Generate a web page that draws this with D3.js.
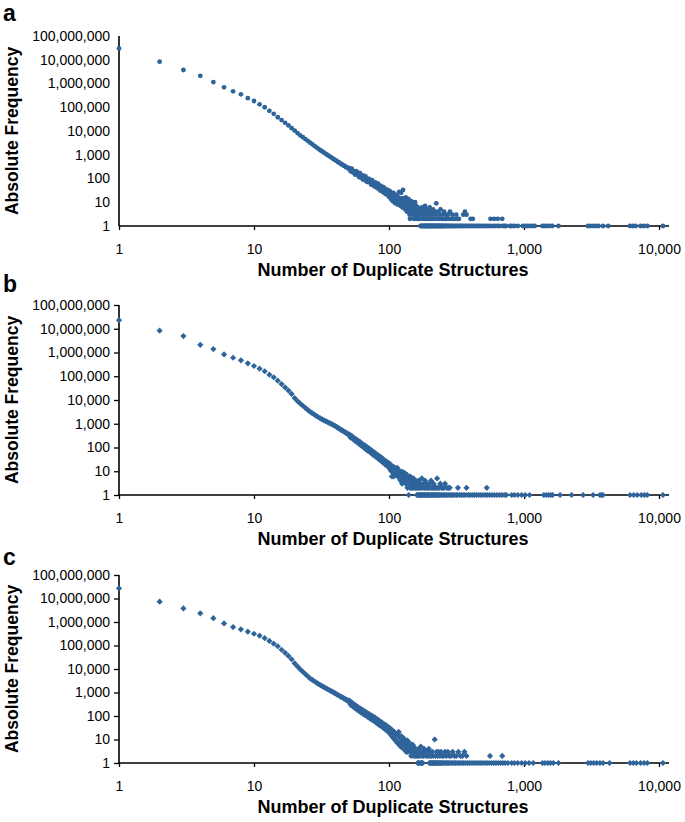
<!DOCTYPE html>
<html lang="en">
<head>
<meta charset="utf-8">
<title>Duplicate structures</title>
<script src="https://d3js.org/d3.v7.min.js"></script>
<style>
body { margin: 0; background: #fff; }
text { font-family: Arial, "Liberation Sans", sans-serif; fill: #000; }
</style>
</head>
<body>
<div id="chart"></div>
<script>

// ---- data ----
// curve arrays: frequency for n = 1, 2, 3 ... (0 = no point)
var curveA = [
  30000000, 8300000, 3700000, 2100000, 1150000, 690000, 470000, 350000, 240000, 183000,
  133000, 100000, 71000, 53000, 38000, 28800, 22100, 17100, 13200, 10400,
  8200, 6600, 5500, 4570, 3850, 3260, 2780, 2380, 2060, 1780,
  1550, 1380, 1220, 1090, 980, 880, 795, 718, 651, 592,
  548, 486, 460, 409, 392, 350, 338, 301, 295, 262,
  276, 200, 260, 182, 204, 146, 205, 146, 175, 115,
  166, 110, 134, 90, 132, 94, 124, 75, 98, 70,
  97, 69, 85, 54, 85, 55, 68, 46, 68, 49,
  61, 39, 61, 38, 47, 31, 49, 34, 41, 27,
  43, 27, 37, 22, 32, 23, 34, 20, 28, 17,
  30, 16, 26, 13, 22, 17, 11, 25, 14, 19,
  9, 21, 15, 12, 18, 8, 16, 13, 27, 10,
  14, 7, 25, 11, 15, 6, 33, 9, 13, 8,
  12, 5, 16, 7, 11, 4, 10, 6, 14, 5,
  9, 3, 2, 8, 5, 11, 4, 7, 3, 6,
  8, 4, 2, 5, 3, 10, 6, 2, 7, 3,
  4, 2, 6, 3, 5, 2, 4, 3, 2, 5
];
// [n, frequency] for the scattered tail
var tailA = [
  [172,4],[174,3],[175,6],[177,2],[178,5],[180,3],[182,4],[183,2],[185,7],[187,3],
  [189,2],[190,5],[192,3],[194,4],[196,2],[198,3],[200,6],[203,2],[205,4],[207,3],
  [210,2],[212,5],[215,3],[218,2],[220,4],[224,9],[226,3],[229,2],[232,4],[235,2],
  [238,3],[241,5],[245,2],[248,3],[252,2],[256,4],[260,2],[264,3],[268,2],[273,3],
  [278,2],[283,4],[289,2],[295,3],[301,2],[308,2],[315,3],[322,2],[330,2],[355,3],
  [365,4],[375,3],[402,2],[418,2],[565,2],[600,2],[640,2],[690,2]
];
// n values seen once (frequency 1)
var onesA = [
  171,173,176,179,181,184,186,188,191,193,195,197,199,201,204,206,209,211,214,217,
  219,222,225,228,231,234,237,240,243,247,250,254,258,262,266,271,276,281,286,292,
  298,304,311,318,326,334,342,351,360,370,380,391,403,415,428,441,455,470,486,503,
  520,540,560,585,610,635,660,695,715,735,790,815,850,900,980,1020,1060,1110,1160,1200,
  1370,1420,1480,1550,1620,1800,2980,3100,3250,3400,3560,3850,4200,6100,6400,6700,
  7300,7700,8200,10700
];

var curveB = [
  23000000, 8300000, 4900000, 2100000, 1400000, 830000, 600000, 470000, 350000, 270000,
  208000, 162000, 117000, 90000, 65000, 47000, 34000, 25000, 18000, 12000,
  9000, 7060, 5730, 4690, 3870, 3220, 2800, 2440, 2140, 1880,
  1670, 1530, 1400, 1280, 1180, 1090, 1010, 933, 863, 790,
  735, 660, 622, 556, 531, 478, 458, 410, 392, 347,
  356, 260, 308, 229, 257, 191, 225, 168, 195, 142,
  172, 122, 148, 108, 130, 94, 118, 81, 102, 72,
  92, 65, 81, 58, 73, 50, 64, 45, 58, 41,
  52, 37, 47, 32, 42, 30, 39, 26, 35, 24,
  32, 22, 28, 19, 26, 18, 24, 16, 22, 15,
  21, 12, 18, 10, 6, 16, 9, 6, 15, 8,
  13, 7, 12, 9, 14, 6, 11, 7, 10, 5,
  9, 4, 10, 6, 3, 8, 5, 9, 4, 7,
  5, 8, 3, 6, 4, 7, 2, 5, 6, 1,
  5, 3, 2, 6, 4, 2, 5, 3, 4, 2,
  3, 5, 2, 4, 0, 3, 2, 4, 0, 2
];
var tailB = [
  [162,3],[164,2],[166,4],[168,2],[171,3],[173,2],[175,5],[178,2],[180,3],[183,2],
  [185,4],[188,2],[190,3],[193,2],[196,2],[199,3],[202,2],[205,4],[208,2],[211,2],
  [214,3],[217,2],[221,2],[224,2],[227,5],[231,2],[235,2],[240,3],[245,2],[250,2],
  [256,2],[260,3],[268,2],[275,2],[282,2],[324,2],[375,2],[530,2]
];
var onesB = [
  161,163,165,167,170,172,174,177,179,182,184,187,189,192,195,198,201,204,207,210,
  213,216,219,223,226,230,233,237,242,247,252,258,264,270,277,284,291,298,306,315,
  322,334,344,355,364,378,390,403,417,431,446,462,479,497,516,536,557,580,604,630,
  657,686,715,740,810,850,900,960,1020,1100,1400,1460,1520,1580,1630,1850,2250,2740,
  3250,3650,3750,3850,6100,6500,6900,7400,7800,8200,10700
];

var curveC = [
  27000000, 7300000, 3800000, 2350000, 1450000, 870000, 610000, 490000, 387000, 317000,
  263000, 204000, 156000, 120000, 93000, 66000, 49000, 36000, 26000, 17500,
  12850, 9710, 7650, 6100, 4910, 3980, 3450, 3010, 2630, 2320,
  2050, 1860, 1690, 1530, 1400, 1280, 1170, 1080, 991, 912,
  852, 768, 729, 655, 630, 566, 547, 489, 475, 416,
  450, 300, 380, 255, 320, 215, 280, 185, 240, 160,
  212, 142, 188, 125, 168, 112, 150, 100, 134, 90,
  122, 80, 110, 72, 102, 66, 92, 60, 84, 53,
  75, 48, 68, 43, 62, 40, 56, 36, 51, 33,
  46, 30, 43, 27, 40, 25, 36, 22, 33, 20,
  31, 18, 28, 15, 25, 13, 23, 12, 21, 10,
  19, 9, 17, 8, 15, 7, 14, 21, 6, 13,
  11, 5, 14, 8, 6, 12, 7, 4, 11, 6,
  9, 5, 8, 3, 7, 4, 9, 3, 6, 5,
  4, 7, 4, 3, 6, 2, 5, 3, 4, 6,
  3, 5, 2, 4, 3, 2, 4, 0, 3, 2
];
var tailC = [
  [162,3],[164,2],[166,4],[168,2],[170,3],[172,5],[175,2],[177,3],[180,2],[182,4],
  [185,3],[188,2],[191,3],[194,2],[197,4],[200,2],[203,3],[206,2],[210,3],[213,2],
  [218,10],[221,2],[225,3],[229,2],[233,3],[238,2],[243,3],[248,2],[254,2],[260,3],
  [266,2],[273,3],[280,2],[288,2],[296,3],[305,2],[315,2],[326,3],[338,2],[350,2],
  [362,3],[375,2],[560,2],[690,2]
];
var onesC = [
  163,165,167,171,174,176,178,199,201,204,207,209,212,215,217,220,223,227,230,234,
  237,241,245,250,255,261,265,270,276,282,289,297,303,311,319,328,337,347,357,368,
  380,392,405,419,433,448,464,480,497,515,534,554,575,597,620,645,670,697,725,760,
  810,850,900,960,1020,1090,1170,1370,1430,1500,1570,1650,1800,2980,3120,3280,3450,
  3650,3850,4300,6100,6450,6800,7300,7750,8200,10700
];

var xTickValues = [1, 10, 100, 1000, 10000];
var yTickValues = [1, 10, 100, 1000, 10000, 100000, 1000000, 10000000, 100000000];

// ---- layout ----
var width = 685, height = 822;
var left = 119, right = 659, axisEnd = 669;
var color = "#2f649b";
var fmt = d3.format(",");

var panels = [
  {letter: "a", letterY: 21,  top: 36,  bottom: 226, curve: curveA, tail: tailA, ones: onesA, shape: "circle",  yTick: 0},
  {letter: "b", letterY: 292, top: 305, bottom: 495, curve: curveB, tail: tailB, ones: onesB, shape: "diamond", yTick: 5},
  {letter: "c", letterY: 565, top: 575, bottom: 763, curve: curveC, tail: tailC, ones: onesC, shape: "diamond", yTick: 5}
];

var svg = d3.select("#chart")
  .append("svg")
    .attr("width", width)
    .attr("height", height);

panels.forEach(function(p) {
  var x = d3.scaleLog().domain([1, 10000]).range([left, right]);
  var y = d3.scaleLog().domain([1, 1e8]).range([p.bottom, p.top]);
  var g = svg.append("g");

  // y axis
  var ya = g.append("g")
    .attr("transform", "translate(" + left + ",0)")
    .call(d3.axisLeft(y).tickValues(yTickValues).tickFormat(fmt)
      .tickSize(p.yTick).tickPadding(9 - p.yTick));
  ya.select(".domain").remove();
  ya.selectAll("line").attr("stroke", "#000").attr("stroke-width", 1.3);
  ya.selectAll("text").style("font-size", "14px").attr("fill", "#000");

  // x axis
  var xa = g.append("g")
    .attr("transform", "translate(0," + p.bottom + ")")
    .call(d3.axisBottom(x).tickValues(xTickValues).tickFormat(fmt)
      .tickSize(4).tickPadding(14));
  xa.select(".domain").remove();
  xa.selectAll("line").attr("stroke", "#000").attr("stroke-width", 1.3);
  xa.selectAll("text").style("font-size", "14px").attr("fill", "#000");

  // axis lines
  g.append("line")
    .attr("x1", left).attr("x2", left)
    .attr("y1", p.top).attr("y2", p.bottom)
    .attr("stroke", "#000").attr("stroke-width", 1.6);
  g.append("line")
    .attr("x1", left).attr("x2", axisEnd)
    .attr("y1", p.bottom).attr("y2", p.bottom)
    .attr("stroke", "#000").attr("stroke-width", 1.6);

  // gather the points
  var pts = [];
  p.curve.forEach(function(v, i) { if (v > 0) pts.push([i + 1, v]); });
  p.tail.forEach(function(d) { pts.push(d); });
  p.ones.forEach(function(n) { pts.push([n, 1]); });

  if (p.shape == "circle") {
    g.append("g").selectAll("circle")
      .data(pts)
      .enter()
      .append("circle")
        .attr("cx", function(d) { return x(d[0]); })
        .attr("cy", function(d) { return y(d[1]); })
        .attr("r", 2.4)
        .attr("fill", color);
  } else {
    var r = 3.1;
    g.append("g").selectAll("path")
      .data(pts)
      .enter()
      .append("path")
        .attr("d", "M0," + (-r) + "L" + r + ",0L0," + r + "L" + (-r) + ",0Z")
        .attr("transform", function(d) { return "translate(" + x(d[0]) + "," + y(d[1]) + ")"; })
        .attr("fill", color);
  }

  // titles
  g.append("text")
    .attr("transform", "rotate(-90)")
    .attr("x", -(p.top + p.bottom) / 2)
    .attr("y", 18)
    .attr("text-anchor", "middle")
    .style("font-size", "17.5px")
    .style("font-weight", "bold")
    .text("Absolute Frequency");

  g.append("text")
    .attr("x", 393)
    .attr("y", p.bottom + 50)
    .attr("text-anchor", "middle")
    .style("font-size", "18px")
    .style("font-weight", "bold")
    .text("Number of Duplicate Structures");

  g.append("text")
    .attr("x", 3)
    .attr("y", p.letterY)
    .style("font-size", "23px")
    .style("font-weight", "bold")
    .text(p.letter);
});
</script>
</body>
</html>
